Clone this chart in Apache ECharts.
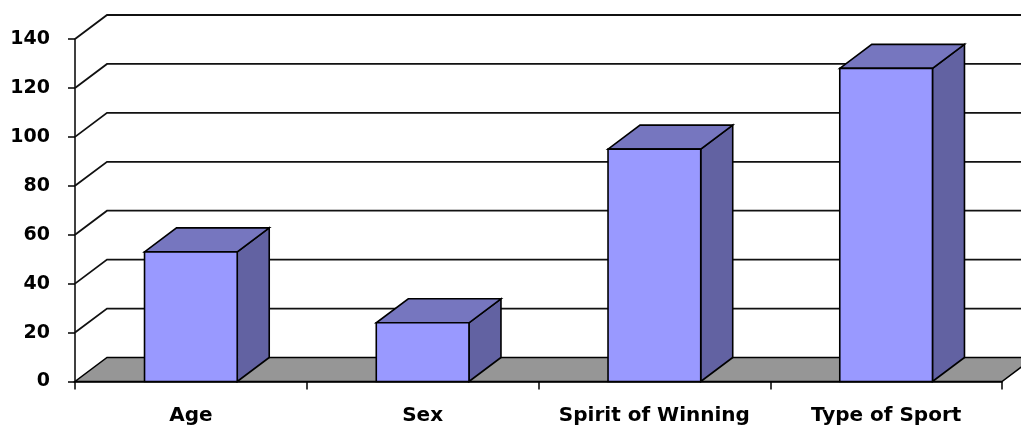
<!DOCTYPE html>
<html>
<head>
<meta charset="utf-8">
<script src="https://cdn.jsdelivr.net/npm/echarts@6/dist/echarts.min.js"></script>
<style>
  html, body { margin: 0; padding: 0; background: #fff; }
  #chart { width: 1021px; height: 430px; }
</style>
</head>
<body>
<div id="chart"></div>
<script>
const categories = ['Age', 'Sex', 'Spirit of Winning', 'Type of Sport'];
const values = [53, 24, 95, 128];
const gridValues = [0, 20, 40, 60, 80, 100, 120, 140];

// depth of the fake 3d box, in pixels
const DX = 32, DY = -24;

function renderGrid(params, api) {
  const cs = params.coordSys;
  const v = api.value(1);
  const p = api.coord([0, v]);
  const y = p[1];
  const x0 = cs.x, x1 = cs.x + cs.width;
  if (v === 0) {
    return {
      type: 'polygon',
      shape: { points: [[x0, y], [x1, y], [x1 + DX, y + DY], [x0 + DX, y + DY]] },
      style: { fill: '#969696', stroke: '#000', lineWidth: 1.5 }
    };
  }
  return {
    type: 'polyline',
    shape: { points: [[x0, y], [x0 + DX, y + DY], [x1 + DX + 40, y + DY]] },
    style: { fill: null, stroke: '#111', lineWidth: 1.8 }
  };
}

function renderBar(params, api) {
  const idx = api.value(0);
  const top = api.coord([idx, api.value(1)]);
  const base = api.coord([idx, 0]);
  const w = api.size([1, 0])[0] * 0.4;
  const l = top[0] - w / 2, r = top[0] + w / 2;
  const t = top[1], b = base[1];
  const line = { stroke: '#000', lineWidth: 1.6 };
  return {
    type: 'group',
    children: [
      { type: 'polygon', shape: { points: [[r, b], [r + DX, b + DY], [r + DX, t + DY], [r, t]] },
        style: Object.assign({ fill: '#6262a2' }, line) },
      { type: 'polygon', shape: { points: [[l, t], [r, t], [r + DX, t + DY], [l + DX, t + DY]] },
        style: Object.assign({ fill: '#7676bf' }, line) },
      { type: 'rect', shape: { x: l, y: t, width: w, height: b - t },
        style: Object.assign({ fill: '#9999ff' }, line) }
    ]
  };
}

const chart = echarts.init(document.getElementById('chart'));
chart.setOption({
  animation: false,
  grid: { left: 75, right: 19, top: 39, bottom: 48.5 },
  xAxis: {
    type: 'category',
    data: categories,
    axisLine: { lineStyle: { color: '#000', width: 1.5 } },
    axisTick: { show: true, length: 8, lineStyle: { color: '#000', width: 1.5 } },
    axisLabel: {
      interval: 0,
      hideOverlap: false,
      margin: 24,
      color: '#000',
      fontFamily: 'DejaVu Sans',
      fontWeight: 'bold',
      fontSize: 20
    }
  },
  yAxis: {
    type: 'value',
    min: 0,
    max: 140,
    interval: 20,
    axisLine: { show: true, lineStyle: { color: '#000', width: 1.5 } },
    axisTick: { show: true, length: 7, lineStyle: { color: '#000', width: 1.5 } },
    splitLine: { show: false },
    axisLabel: {
      margin: 25,
      padding: [4, 0, 0, 0],
      color: '#000',
      fontFamily: 'DejaVu Sans',
      fontWeight: 'bold',
      fontSize: 19
    }
  },
  series: [
    {
      type: 'custom',
      renderItem: renderGrid,
      data: gridValues.map(v => [0, v]),
      encode: { x: 0, y: 1 },
      z: 1,
      silent: true
    },
    {
      type: 'custom',
      renderItem: renderBar,
      data: values.map((v, i) => [i, v]),
      encode: { x: 0, y: 1 },
      z: 3
    }
  ]
});
</script>
</body>
</html>
